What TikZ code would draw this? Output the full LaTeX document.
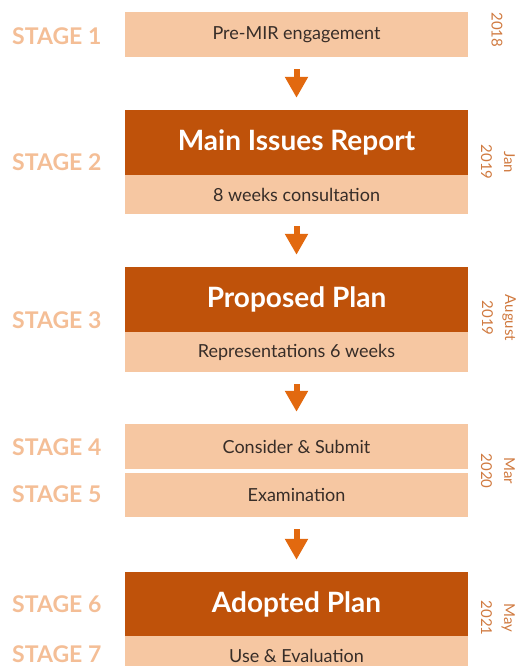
\documentclass[tikz,border=0pt]{standalone}
\usepackage{fontspec}
\setmainfont{Lato}
\usetikzlibrary{arrows.meta}

\definecolor{darkstage}{RGB}{191,82,10}
\definecolor{lightstage}{RGB}{246,199,162}
\definecolor{arroworange}{RGB}{226,105,15}
\definecolor{stagelabel}{RGB}{244,190,150}
\definecolor{datelabel}{RGB}{208,122,64}
\definecolor{boxtext}{RGB}{55,45,40}

\begin{document}
\begin{tikzpicture}[x=1pt, y=-1pt,
    lightbox/.style={fill=lightstage, inner sep=0pt, minimum width=343pt,
      text=boxtext, font=\fontsize{18}{20}\selectfont},
    darkbox/.style={fill=darkstage, inner sep=0pt, minimum width=343pt,
      text=white, font=\fontsize{28}{30}\selectfont\bfseries},
    stagetext/.style={anchor=west, inner sep=0pt, text=stagelabel,
      font=\fontsize{23}{25}\selectfont\bfseries},
    datetext/.style={rotate=-90, align=center, text=datelabel,
      font=\fontsize{15}{23}\selectfont},
    flowarrow/.style={draw=arroworange, line width=6pt,
      -{Triangle[width=22pt, length=21pt]},
      shorten <=12pt, shorten >=12pt}]
  \useasboundingbox (0,0) rectangle (523,666);

  % boxes
  \node[lightbox, minimum height=45pt] (pre) at (296.5,34.5) {Pre-MIR engagement};
  \node[darkbox, minimum height=65pt] (mir) at (296.5,142.5) {Main Issues Report};
  \node[lightbox, minimum height=39pt] (cons) at (296.5,194.5) {8 weeks consultation};
  \node[darkbox, minimum height=65pt] (prop) at (296.5,299.5) {Proposed Plan};
  \node[lightbox, minimum height=40pt] (repr) at (296.5,352) {Representations 6 weeks};
  \node[lightbox, minimum height=45pt] (subm) at (296.5,446.5) {Consider \& Submit};
  \node[lightbox, minimum height=44pt] (exam) at (296.5,495) {Examination};
  \node[darkbox, minimum height=64pt] (adop) at (296.5,604) {Adopted Plan};
  \node[lightbox, minimum height=40pt] (eval) at (296.5,656) {Use \& Evaluation};

  % arrows
  \draw[flowarrow] (pre) -- (mir);
  \draw[flowarrow] (cons) -- (prop);
  \draw[flowarrow] (repr) -- (subm);
  \draw[flowarrow] (exam) -- (adop);

  % stages
  \node[stagetext] (st1) at (12,36) {STAGE 1};
  \node[stagetext] (st2) at (12,162) {STAGE 2};
  \node[stagetext] (st3) at (12,320) {STAGE 3};
  \node[stagetext] (st4) at (12,447) {STAGE 4};
  \node[stagetext] (st5) at (12,494) {STAGE 5};
  \node[stagetext] (st6) at (12,604) {STAGE 6};
  \node[stagetext] (st7) at (12,654) {STAGE 7};

  % dates
  \node[datetext] (d1) at (497,30) {2018};
  \node[datetext] (d2) at (498,162) {Jan\\2019};
  \node[datetext] (d3) at (499,318) {August\\2019};
  \node[datetext] (d4) at (498,471) {Mar\\2020};
  \node[datetext] (d5) at (498,618) {May\\2021};
\end{tikzpicture}
\end{document}
